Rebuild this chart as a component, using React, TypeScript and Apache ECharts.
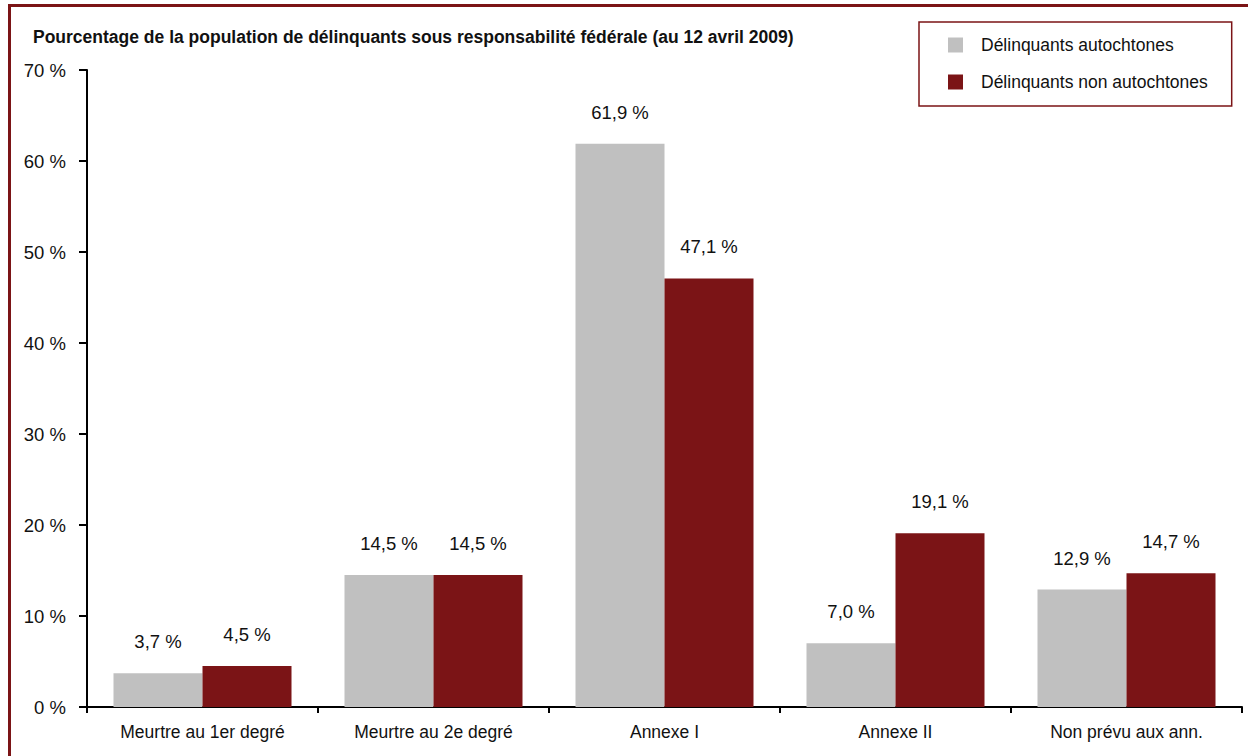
import React, { useEffect, useRef } from "react";
import * as echarts from "echarts";

const categories = [
  "Meurtre au 1er degré",
  "Meurtre au 2e degré",
  "Annexe I",
  "Annexe II",
  "Non prévu aux ann.",
];
const autochtones = [3.7, 14.5, 61.9, 7.0, 12.9];
const nonAutochtones = [4.5, 14.5, 47.1, 19.1, 14.7];
const seriesNames = ["Délinquants autochtones", "Délinquants non autochtones"];
const title =
  "Pourcentage de la population de délinquants sous responsabilité fédérale (au 12 avril 2009)";

const FONT = "'Liberation Sans', Arial, sans-serif";
const DARK_RED = "#7b1416";
const GRAY = "#c0c0c0";

const fmt = (v: number) => v.toFixed(1).replace(".", ",") + " %";

export default function App() {
  const ref = useRef<HTMLDivElement>(null);
  useEffect(() => {
    if (!ref.current) return;
    const chart = echarts.init(ref.current, undefined, { renderer: "svg" });
    const labelCfg = {
      show: true,
      position: "top" as const,
      distance: 22,
      formatter: (p: any) => fmt(p.value),
      fontFamily: FONT,
      fontSize: 18.5,
      color: "#111",
    };
    chart.setOption({
      animation: false,
      backgroundColor: "#fff",
      title: {
        text: title,
        left: 28,
        top: 23,
        textStyle: { fontFamily: FONT, fontSize: 17.5, fontWeight: "bold", color: "#111" },
      },
      legend: {
        orient: "vertical",
        left: 919,
        top: 22,
        itemWidth: 15,
        itemHeight: 15,
        itemGap: 19,
        padding: [14, 24, 15, 29],
        borderColor: DARK_RED,
        borderWidth: 1.5,
        icon: "rect",
        textStyle: { fontFamily: FONT, fontSize: 17.5, color: "#111", padding: [0, 0, 0, 13] },
        data: seriesNames,
      },
      grid: { left: 87, right: 6, top: 70, bottom: 49, containLabel: false },
      xAxis: {
        type: "category",
        data: categories,
        axisLine: { lineStyle: { color: "#000", width: 2 } },
        axisTick: { show: true, length: 6, alignWithLabel: false, lineStyle: { color: "#000", width: 2 } },
        axisLabel: { fontFamily: FONT, fontSize: 17.5, color: "#111", margin: 16 },
      },
      yAxis: {
        type: "value",
        min: 0,
        max: 70,
        interval: 10,
        axisLine: { show: true, lineStyle: { color: "#000", width: 2 } },
        axisTick: { show: true, length: 8, lineStyle: { color: "#000", width: 2 } },
        splitLine: { show: false },
        axisLabel: {
          fontFamily: FONT,
          fontSize: 18.5,
          color: "#111",
          margin: 21,
          formatter: (v: number) => `${v} %`,
        },
      },
      graphic: [
        {
          type: "polyline",
          shape: { points: [[9.5, 800], [9.5, 5.5], [1300, 5.5]] },
          style: { stroke: DARK_RED, lineWidth: 3, fill: "none" },
          silent: true,
        },
      ],
      series: [
        {
          name: seriesNames[0],
          type: "bar",
          data: autochtones,
          barWidth: 89,
          barGap: "0%",
          itemStyle: { color: GRAY },
          label: labelCfg,
        },
        {
          name: seriesNames[1],
          type: "bar",
          data: nonAutochtones,
          barWidth: 89,
          barGap: "0%",
          itemStyle: { color: DARK_RED },
          label: labelCfg,
        },
      ],
    });
    return () => chart.dispose();
  }, []);
  return (
    <div
      ref={ref}
      style={{ position: "fixed", left: 0, top: 0, width: 1248, height: 756 }}
    />
  );
}
